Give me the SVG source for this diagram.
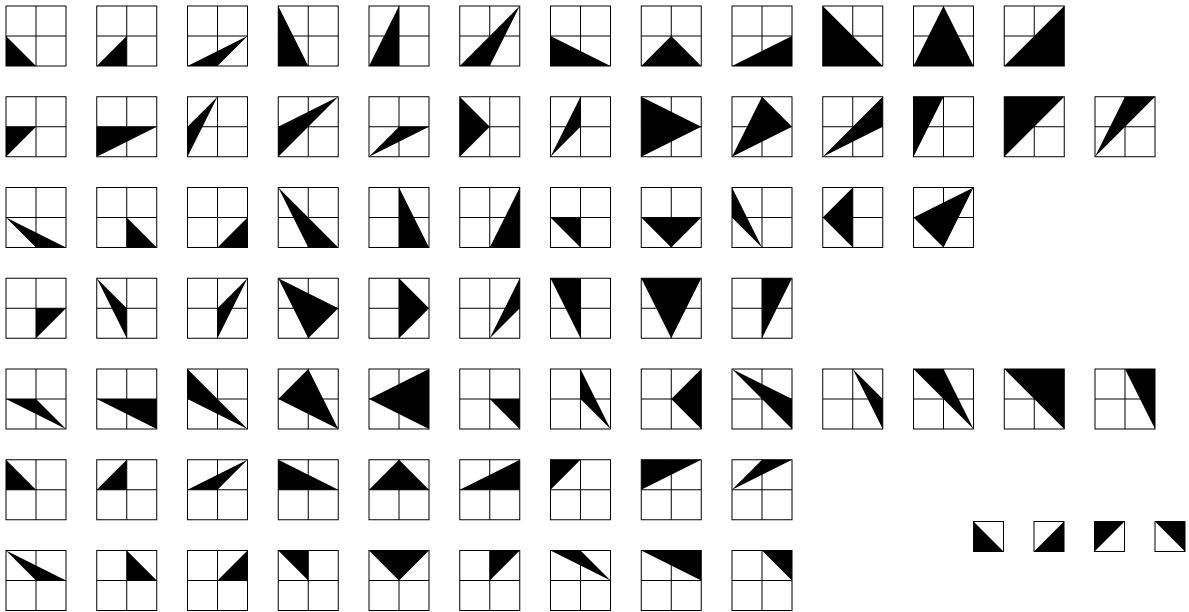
<svg xmlns="http://www.w3.org/2000/svg" xmlns:xlink="http://www.w3.org/1999/xlink" width="1189" height="612" viewBox="0 0 1189 612">
<style>
.t{fill:#000;stroke:none}
.g{fill:none;stroke:#000;stroke-width:1}
</style>
<defs>
<g id="grid"><rect class="g" x="0" y="0" width="60" height="60"/><path class="g" d="M30 0V60M0 30H60"/></g>
<rect id="sq" class="g" x="0" y="0" width="30" height="30"/>
</defs>
<rect width="1189" height="612" fill="#fff"/>
<g id="row0">
<g id="r0c0" transform="translate(6,6)"><polygon class="t" points="0,30 0,60 30,60"/><use href="#grid"/></g>
<g id="r0c1" transform="translate(96.75,6)"><polygon class="t" points="30,30 0,60 30,60"/><use href="#grid"/></g>
<g id="r0c2" transform="translate(187.5,6)"><polygon class="t" points="0,60 60,30 30,60"/><use href="#grid"/></g>
<g id="r0c3" transform="translate(278.25,6)"><polygon class="t" points="0,0 0,60 30,60"/><use href="#grid"/></g>
<g id="r0c4" transform="translate(369,6)"><polygon class="t" points="30,0 0,60 30,60"/><use href="#grid"/></g>
<g id="r0c5" transform="translate(459.75,6)"><polygon class="t" points="60,0 0,60 30,60"/><use href="#grid"/></g>
<g id="r0c6" transform="translate(550.5,6)"><polygon class="t" points="0,30 0,60 60,60"/><use href="#grid"/></g>
<g id="r0c7" transform="translate(641.25,6)"><polygon class="t" points="30,30 0,60 60,60"/><use href="#grid"/></g>
<g id="r0c8" transform="translate(732,6)"><polygon class="t" points="60,30 0,60 60,60"/><use href="#grid"/></g>
<g id="r0c9" transform="translate(822.75,6)"><polygon class="t" points="0,0 0,60 60,60"/><use href="#grid"/></g>
<g id="r0c10" transform="translate(913.5,6)"><polygon class="t" points="30,0 0,60 60,60"/><use href="#grid"/></g>
<g id="r0c11" transform="translate(1004.25,6)"><polygon class="t" points="60,0 0,60 60,60"/><use href="#grid"/></g>
</g>
<g id="row1">
<g id="r1c0" transform="translate(6,96.75)"><polygon class="t" points="0,30 30,30 0,60"/><use href="#grid"/></g>
<g id="r1c1" transform="translate(96.75,96.75)"><polygon class="t" points="0,30 60,30 0,60"/><use href="#grid"/></g>
<g id="r1c2" transform="translate(187.5,96.75)"><polygon class="t" points="30,0 0,30 0,60"/><use href="#grid"/></g>
<g id="r1c3" transform="translate(278.25,96.75)"><polygon class="t" points="60,0 0,30 0,60"/><use href="#grid"/></g>
<g id="r1c4" transform="translate(369,96.75)"><polygon class="t" points="0,60 30,30 60,30"/><use href="#grid"/></g>
<g id="r1c5" transform="translate(459.75,96.75)"><polygon class="t" points="0,0 30,30 0,60"/><use href="#grid"/></g>
<g id="r1c6" transform="translate(550.5,96.75)"><polygon class="t" points="30,0 30,30 0,60"/><use href="#grid"/></g>
<g id="r1c7" transform="translate(641.25,96.75)"><polygon class="t" points="0,0 60,30 0,60"/><use href="#grid"/></g>
<g id="r1c8" transform="translate(732,96.75)"><polygon class="t" points="30,0 60,30 0,60"/><use href="#grid"/></g>
<g id="r1c9" transform="translate(822.75,96.75)"><polygon class="t" points="60,0 60,30 0,60"/><use href="#grid"/></g>
<g id="r1c10" transform="translate(913.5,96.75)"><polygon class="t" points="0,0 30,0 0,60"/><use href="#grid"/></g>
<g id="r1c11" transform="translate(1004.25,96.75)"><polygon class="t" points="0,0 60,0 0,60"/><use href="#grid"/></g>
<g id="r1c12" transform="translate(1095,96.75)"><polygon class="t" points="30,0 60,0 0,60"/><use href="#grid"/></g>
</g>
<g id="row2">
<g id="r2c0" transform="translate(6,187.5)"><polygon class="t" points="0,30 30,60 60,60"/><use href="#grid"/></g>
<g id="r2c1" transform="translate(96.75,187.5)"><polygon class="t" points="30,30 30,60 60,60"/><use href="#grid"/></g>
<g id="r2c2" transform="translate(187.5,187.5)"><polygon class="t" points="60,30 30,60 60,60"/><use href="#grid"/></g>
<g id="r2c3" transform="translate(278.25,187.5)"><polygon class="t" points="0,0 30,60 60,60"/><use href="#grid"/></g>
<g id="r2c4" transform="translate(369,187.5)"><polygon class="t" points="30,0 30,60 60,60"/><use href="#grid"/></g>
<g id="r2c5" transform="translate(459.75,187.5)"><polygon class="t" points="60,0 30,60 60,60"/><use href="#grid"/></g>
<g id="r2c6" transform="translate(550.5,187.5)"><polygon class="t" points="0,30 30,30 30,60"/><use href="#grid"/></g>
<g id="r2c7" transform="translate(641.25,187.5)"><polygon class="t" points="0,30 60,30 30,60"/><use href="#grid"/></g>
<g id="r2c8" transform="translate(732,187.5)"><polygon class="t" points="0,0 0,30 30,60"/><use href="#grid"/></g>
<g id="r2c9" transform="translate(822.75,187.5)"><polygon class="t" points="30,0 0,30 30,60"/><use href="#grid"/></g>
<g id="r2c10" transform="translate(913.5,187.5)"><polygon class="t" points="60,0 0,30 30,60"/><use href="#grid"/></g>
</g>
<g id="row3">
<g id="r3c0" transform="translate(6,278.25)"><polygon class="t" points="30,30 60,30 30,60"/><use href="#grid"/></g>
<g id="r3c1" transform="translate(96.75,278.25)"><polygon class="t" points="0,0 30,30 30,60"/><use href="#grid"/></g>
<g id="r3c2" transform="translate(187.5,278.25)"><polygon class="t" points="60,0 30,30 30,60"/><use href="#grid"/></g>
<g id="r3c3" transform="translate(278.25,278.25)"><polygon class="t" points="0,0 60,30 30,60"/><use href="#grid"/></g>
<g id="r3c4" transform="translate(369,278.25)"><polygon class="t" points="30,0 60,30 30,60"/><use href="#grid"/></g>
<g id="r3c5" transform="translate(459.75,278.25)"><polygon class="t" points="60,0 60,30 30,60"/><use href="#grid"/></g>
<g id="r3c6" transform="translate(550.5,278.25)"><polygon class="t" points="0,0 30,0 30,60"/><use href="#grid"/></g>
<g id="r3c7" transform="translate(641.25,278.25)"><polygon class="t" points="0,0 60,0 30,60"/><use href="#grid"/></g>
<g id="r3c8" transform="translate(732,278.25)"><polygon class="t" points="30,0 60,0 30,60"/><use href="#grid"/></g>
</g>
<g id="row4">
<g id="r4c0" transform="translate(6,369)"><polygon class="t" points="0,30 30,30 60,60"/><use href="#grid"/></g>
<g id="r4c1" transform="translate(96.75,369)"><polygon class="t" points="0,30 60,30 60,60"/><use href="#grid"/></g>
<g id="r4c2" transform="translate(187.5,369)"><polygon class="t" points="0,0 0,30 60,60"/><use href="#grid"/></g>
<g id="r4c3" transform="translate(278.25,369)"><polygon class="t" points="30,0 0,30 60,60"/><use href="#grid"/></g>
<g id="r4c4" transform="translate(369,369)"><polygon class="t" points="60,0 0,30 60,60"/><use href="#grid"/></g>
<g id="r4c5" transform="translate(459.75,369)"><polygon class="t" points="30,30 60,30 60,60"/><use href="#grid"/></g>
<g id="r4c6" transform="translate(550.5,369)"><polygon class="t" points="30,0 30,30 60,60"/><use href="#grid"/></g>
<g id="r4c7" transform="translate(641.25,369)"><polygon class="t" points="60,0 30,30 60,60"/><use href="#grid"/></g>
<g id="r4c8" transform="translate(732,369)"><polygon class="t" points="0,0 60,30 60,60"/><use href="#grid"/></g>
<g id="r4c9" transform="translate(822.75,369)"><polygon class="t" points="30,0 60,30 60,60"/><use href="#grid"/></g>
<g id="r4c10" transform="translate(913.5,369)"><polygon class="t" points="0,0 30,0 60,60"/><use href="#grid"/></g>
<g id="r4c11" transform="translate(1004.25,369)"><polygon class="t" points="0,0 60,0 60,60"/><use href="#grid"/></g>
<g id="r4c12" transform="translate(1095,369)"><polygon class="t" points="30,0 60,0 60,60"/><use href="#grid"/></g>
</g>
<g id="row5">
<g id="r5c0" transform="translate(6,459.75)"><polygon class="t" points="0,0 0,30 30,30"/><use href="#grid"/></g>
<g id="r5c1" transform="translate(96.75,459.75)"><polygon class="t" points="30,0 0,30 30,30"/><use href="#grid"/></g>
<g id="r5c2" transform="translate(187.5,459.75)"><polygon class="t" points="60,0 0,30 30,30"/><use href="#grid"/></g>
<g id="r5c3" transform="translate(278.25,459.75)"><polygon class="t" points="0,0 0,30 60,30"/><use href="#grid"/></g>
<g id="r5c4" transform="translate(369,459.75)"><polygon class="t" points="30,0 0,30 60,30"/><use href="#grid"/></g>
<g id="r5c5" transform="translate(459.75,459.75)"><polygon class="t" points="60,0 0,30 60,30"/><use href="#grid"/></g>
<g id="r5c6" transform="translate(550.5,459.75)"><polygon class="t" points="0,0 30,0 0,30"/><use href="#grid"/></g>
<g id="r5c7" transform="translate(641.25,459.75)"><polygon class="t" points="0,0 60,0 0,30"/><use href="#grid"/></g>
<g id="r5c8" transform="translate(732,459.75)"><polygon class="t" points="30,0 60,0 0,30"/><use href="#grid"/></g>
</g>
<g id="row6">
<g id="r6c0" transform="translate(6,550.5)"><polygon class="t" points="0,0 30,30 60,30"/><use href="#grid"/></g>
<g id="r6c1" transform="translate(96.75,550.5)"><polygon class="t" points="30,0 30,30 60,30"/><use href="#grid"/></g>
<g id="r6c2" transform="translate(187.5,550.5)"><polygon class="t" points="60,0 30,30 60,30"/><use href="#grid"/></g>
<g id="r6c3" transform="translate(278.25,550.5)"><polygon class="t" points="0,0 30,0 30,30"/><use href="#grid"/></g>
<g id="r6c4" transform="translate(369,550.5)"><polygon class="t" points="0,0 60,0 30,30"/><use href="#grid"/></g>
<g id="r6c5" transform="translate(459.75,550.5)"><polygon class="t" points="30,0 60,0 30,30"/><use href="#grid"/></g>
<g id="r6c6" transform="translate(550.5,550.5)"><polygon class="t" points="0,0 30,0 60,30"/><use href="#grid"/></g>
<g id="r6c7" transform="translate(641.25,550.5)"><polygon class="t" points="0,0 60,0 60,30"/><use href="#grid"/></g>
<g id="r6c8" transform="translate(732,550.5)"><polygon class="t" points="30,0 60,0 60,30"/><use href="#grid"/></g>
</g>
<g id="legend">
<g id="s0" transform="translate(973.5,521.5)"><polygon class="t" points="0,0 0,30 30,30"/><use href="#sq"/></g>
<g id="s1" transform="translate(1034,521.5)"><polygon class="t" points="30,0 30,30 0,30"/><use href="#sq"/></g>
<g id="s2" transform="translate(1094.5,521.5)"><polygon class="t" points="0,0 30,0 0,30"/><use href="#sq"/></g>
<g id="s3" transform="translate(1155,521.5)"><polygon class="t" points="0,0 30,0 30,30"/><use href="#sq"/></g>
</g>
</svg>
